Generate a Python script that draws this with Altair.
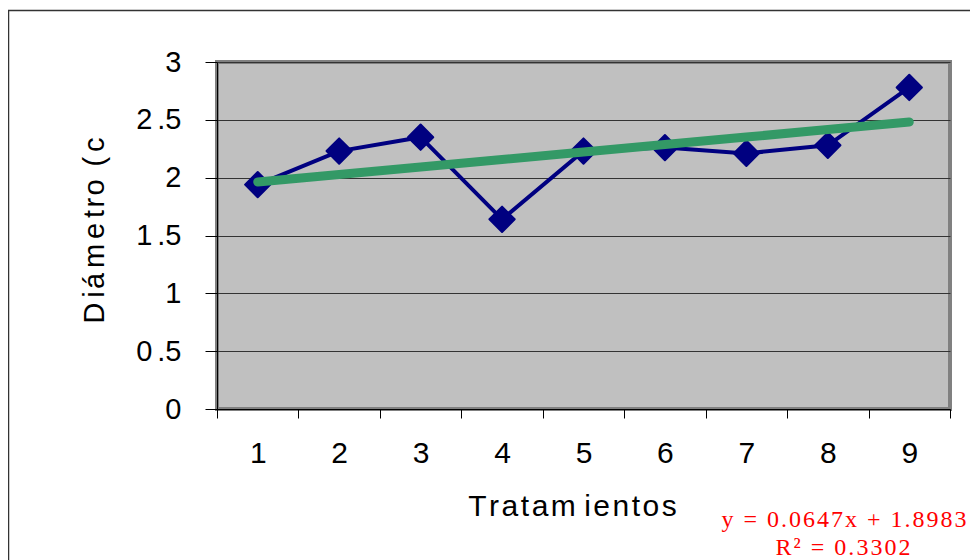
import altair as alt
import pandas as pd

# ---- data ----
tratamientos = [1, 2, 3, 4, 5, 6, 7, 8, 9]
diametro = [1.94, 2.23, 2.35, 1.64, 2.23, 2.26, 2.21, 2.28, 2.78]
slope = 0.0647
intercept = 1.8983
r2 = 0.3302
y_ticks = [0, 0.5, 1, 1.5, 2, 2.5, 3]

df = pd.DataFrame({"t": tratamientos, "d": diametro})

HS = "\u200a"  # hair space (to mimic wide letter spacing)
SS = "\u2006"  # six-per-em space
NB = "\u00a0"  # no-break space (not collapsed)


def spaced(s, sep=HS):
    return sep.join(s)


x_title = spaced("Tratam") + " " + spaced("ientos")
y_title = ("D" + SS + spaced("iá", HS) + SS + "m" + SS + "e" + SS
           + spaced("tro", HS) + NB + SS + spaced("(c", SS))
eq1 = spaced(f"y = {slope}x + {intercept}")
eq2 = spaced(f"R² = {r2}")

SANS = "Liberation Sans, Arial, sans-serif"
SERIF = "Liberation Serif, Times New Roman, serif"

x_enc = alt.X(
    "t:O",
    bandPosition=0.5,
    scale=alt.Scale(type="band", paddingInner=0, paddingOuter=0),
    axis=alt.Axis(
        title=x_title,
        titleFont=SANS,
        titleFontSize=30,
        titleFontWeight="normal",
        titleColor="black",
        titleX=355,
        titleY=106,
        titleAlign="center",
        titleBaseline="alphabetic",
        labelFont=SANS,
        labelFontSize=30,
        labelColor="black",
        labelAngle=0,
        labelBaseline="alphabetic",
        labelPadding=44,
        tickBand="extent",
        tickSize=9,
        tickColor="black",
        domainColor="black",
        domainWidth=1,
        grid=False,
    ),
)

y_axis = alt.Axis(
    title=y_title,
    values=y_ticks,
    labelExpr="replace(toString(datum.value), '.', '\u2006.')",
    titleFont=SANS,
    titleFontSize=29,
    titleFontWeight="normal",
    titleColor="black",
    titleAngle=270,
    titleX=-114,
    titleY=168,
    titleAlign="center",
    titleBaseline="alphabetic",
    labelFont=SANS,
    labelFontSize=29,
    labelColor="black",
    labelPadding=24,
    tickSize=12,
    tickColor="black",
    domainColor="black",
    domainWidth=1,
    grid=True,
    gridColor="#333333",
    gridWidth=1,
)
y_scale = alt.Scale(domain=[0, 3], nice=False)

base = alt.Chart(df).encode(x=x_enc)

line = base.mark_line(color="#000080", strokeWidth=4).encode(
    y=alt.Y("d:Q", scale=y_scale, axis=y_axis)
)
points = base.mark_point(
    shape="diamond", filled=True, size=640, color="#000080", opacity=1,
    stroke="#000080", strokeWidth=2, strokeJoin="round",
).encode(y=alt.Y("d:Q", scale=y_scale, axis=y_axis))

trend = (
    base.transform_calculate(trend=f"{slope} * datum.t + {intercept}")
    .mark_line(color="#339966", strokeWidth=9, strokeCap="round")
    .encode(y=alt.Y("trend:Q", scale=y_scale, axis=y_axis))
)

border = alt.Chart(pd.DataFrame({"k": [0]})).mark_rect(
    fill="white", fillOpacity=0, stroke="#333333", strokeWidth=1.5
).encode(
    x=alt.value(-208.5), x2=alt.value(900), y=alt.value(-51.5), y2=alt.value(700)
)

eq_df = pd.DataFrame({"label": [eq1]})
eq_df2 = pd.DataFrame({"label": [eq2]})
eq_text1 = alt.Chart(eq_df).mark_text(
    font=SERIF, fontSize=24, color="#FF0000", align="center", baseline="alphabetic"
).encode(x=alt.value(627), y=alt.value(465), text="label:N")
eq_text2 = alt.Chart(eq_df2).mark_text(
    font=SERIF, fontSize=24, color="#FF0000", align="center", baseline="alphabetic"
).encode(x=alt.value(626), y=alt.value(493), text="label:N")

chart = (
    alt.layer(border, line, points, trend, eq_text1, eq_text2)
    .properties(
        width=733,
        height=347,
        padding={"left": 209, "top": 54, "right": 20, "bottom": 151},
        autosize=alt.AutoSizeParams(type="none"),
        background="white",
    )
    .configure_view(fill="#C0C0C0", stroke="#808080", strokeWidth=4)
)

chart.save("out.html", embed_options={"renderer": "svg", "actions": False})
